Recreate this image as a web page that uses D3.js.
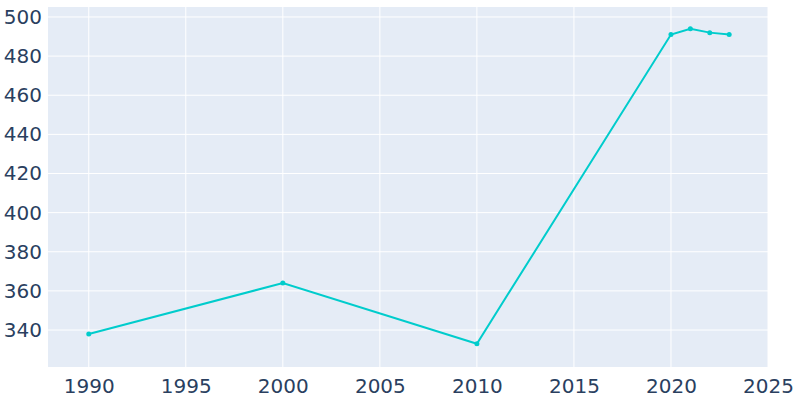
<!DOCTYPE html>
<html><head><meta charset="utf-8">
<script src="https://cdn.jsdelivr.net/npm/d3@7"></script>
<style>body{margin:0;background:#fff}</style>
</head><body>
<svg id="chart" width="800" height="400"></svg>
<script>
const years = [1990, 2000, 2010, 2020, 2021, 2022, 2023];
const population = [338, 364, 333, 491, 494, 492, 491];
const xTicks = [1990, 1995, 2000, 2005, 2010, 2015, 2020, 2025];
const yTicks = [340, 360, 380, 400, 420, 440, 460, 480, 500];

const data = years.map((y, i) => ({ year: y, value: population[i] }));
const margin = { left: 48, right: 32, top: 7, bottom: 33 };
const width = 800, height = 400;

const svg = d3.select("#chart");
const x = d3.scaleLinear().domain([1987.9, 2025]).range([margin.left, width - margin.right]);
const y = d3.scaleLinear().domain([321.1, 505.1]).range([height - margin.bottom, margin.top]);

svg.append("rect")
    .attr("x", margin.left).attr("y", margin.top)
    .attr("width", width - margin.left - margin.right)
    .attr("height", height - margin.top - margin.bottom)
    .attr("fill", "#e5ecf6");

const grid = svg.append("g");
grid.selectAll(".vx").data(xTicks).enter().append("line")
    .attr("x1", d => x(d)).attr("x2", d => x(d))
    .attr("y1", margin.top).attr("y2", height - margin.bottom)
    .attr("stroke", "#fff").attr("stroke-width", 1);
grid.selectAll(".hy").data(yTicks).enter().append("line")
    .attr("x1", margin.left).attr("x2", width - margin.right)
    .attr("y1", d => y(d)).attr("y2", d => y(d))
    .attr("stroke", "#fff").attr("stroke-width", 1);

const xAxis = svg.append("g")
    .attr("transform", `translate(0,${height - margin.bottom})`)
    .call(d3.axisBottom(x).tickValues(xTicks).tickFormat(d3.format("d")).tickSize(0).tickPadding(8));
const yAxis = svg.append("g")
    .attr("transform", `translate(${margin.left},0)`)
    .call(d3.axisLeft(y).tickValues(yTicks).tickSize(0).tickPadding(6));
[xAxis, yAxis].forEach(a => {
    a.select(".domain").remove();
    a.selectAll("text").attr("fill", "#2a3f5f")
        .style("font-family", "'DejaVu Sans', sans-serif").style("font-size", "20px");
});
xAxis.selectAll("text").attr("dy", "0.9em");

const line = d3.line().x(d => x(d.year)).y(d => y(d.value));
svg.append("path").datum(data)
    .attr("d", line).attr("fill", "none")
    .attr("stroke", "#00cccc").attr("stroke-width", 2);
svg.selectAll(".pt").data(data).enter().append("circle")
    .attr("cx", d => x(d.year)).attr("cy", d => y(d.value))
    .attr("r", 2.5).attr("fill", "#00cccc");
</script>
</body></html>
